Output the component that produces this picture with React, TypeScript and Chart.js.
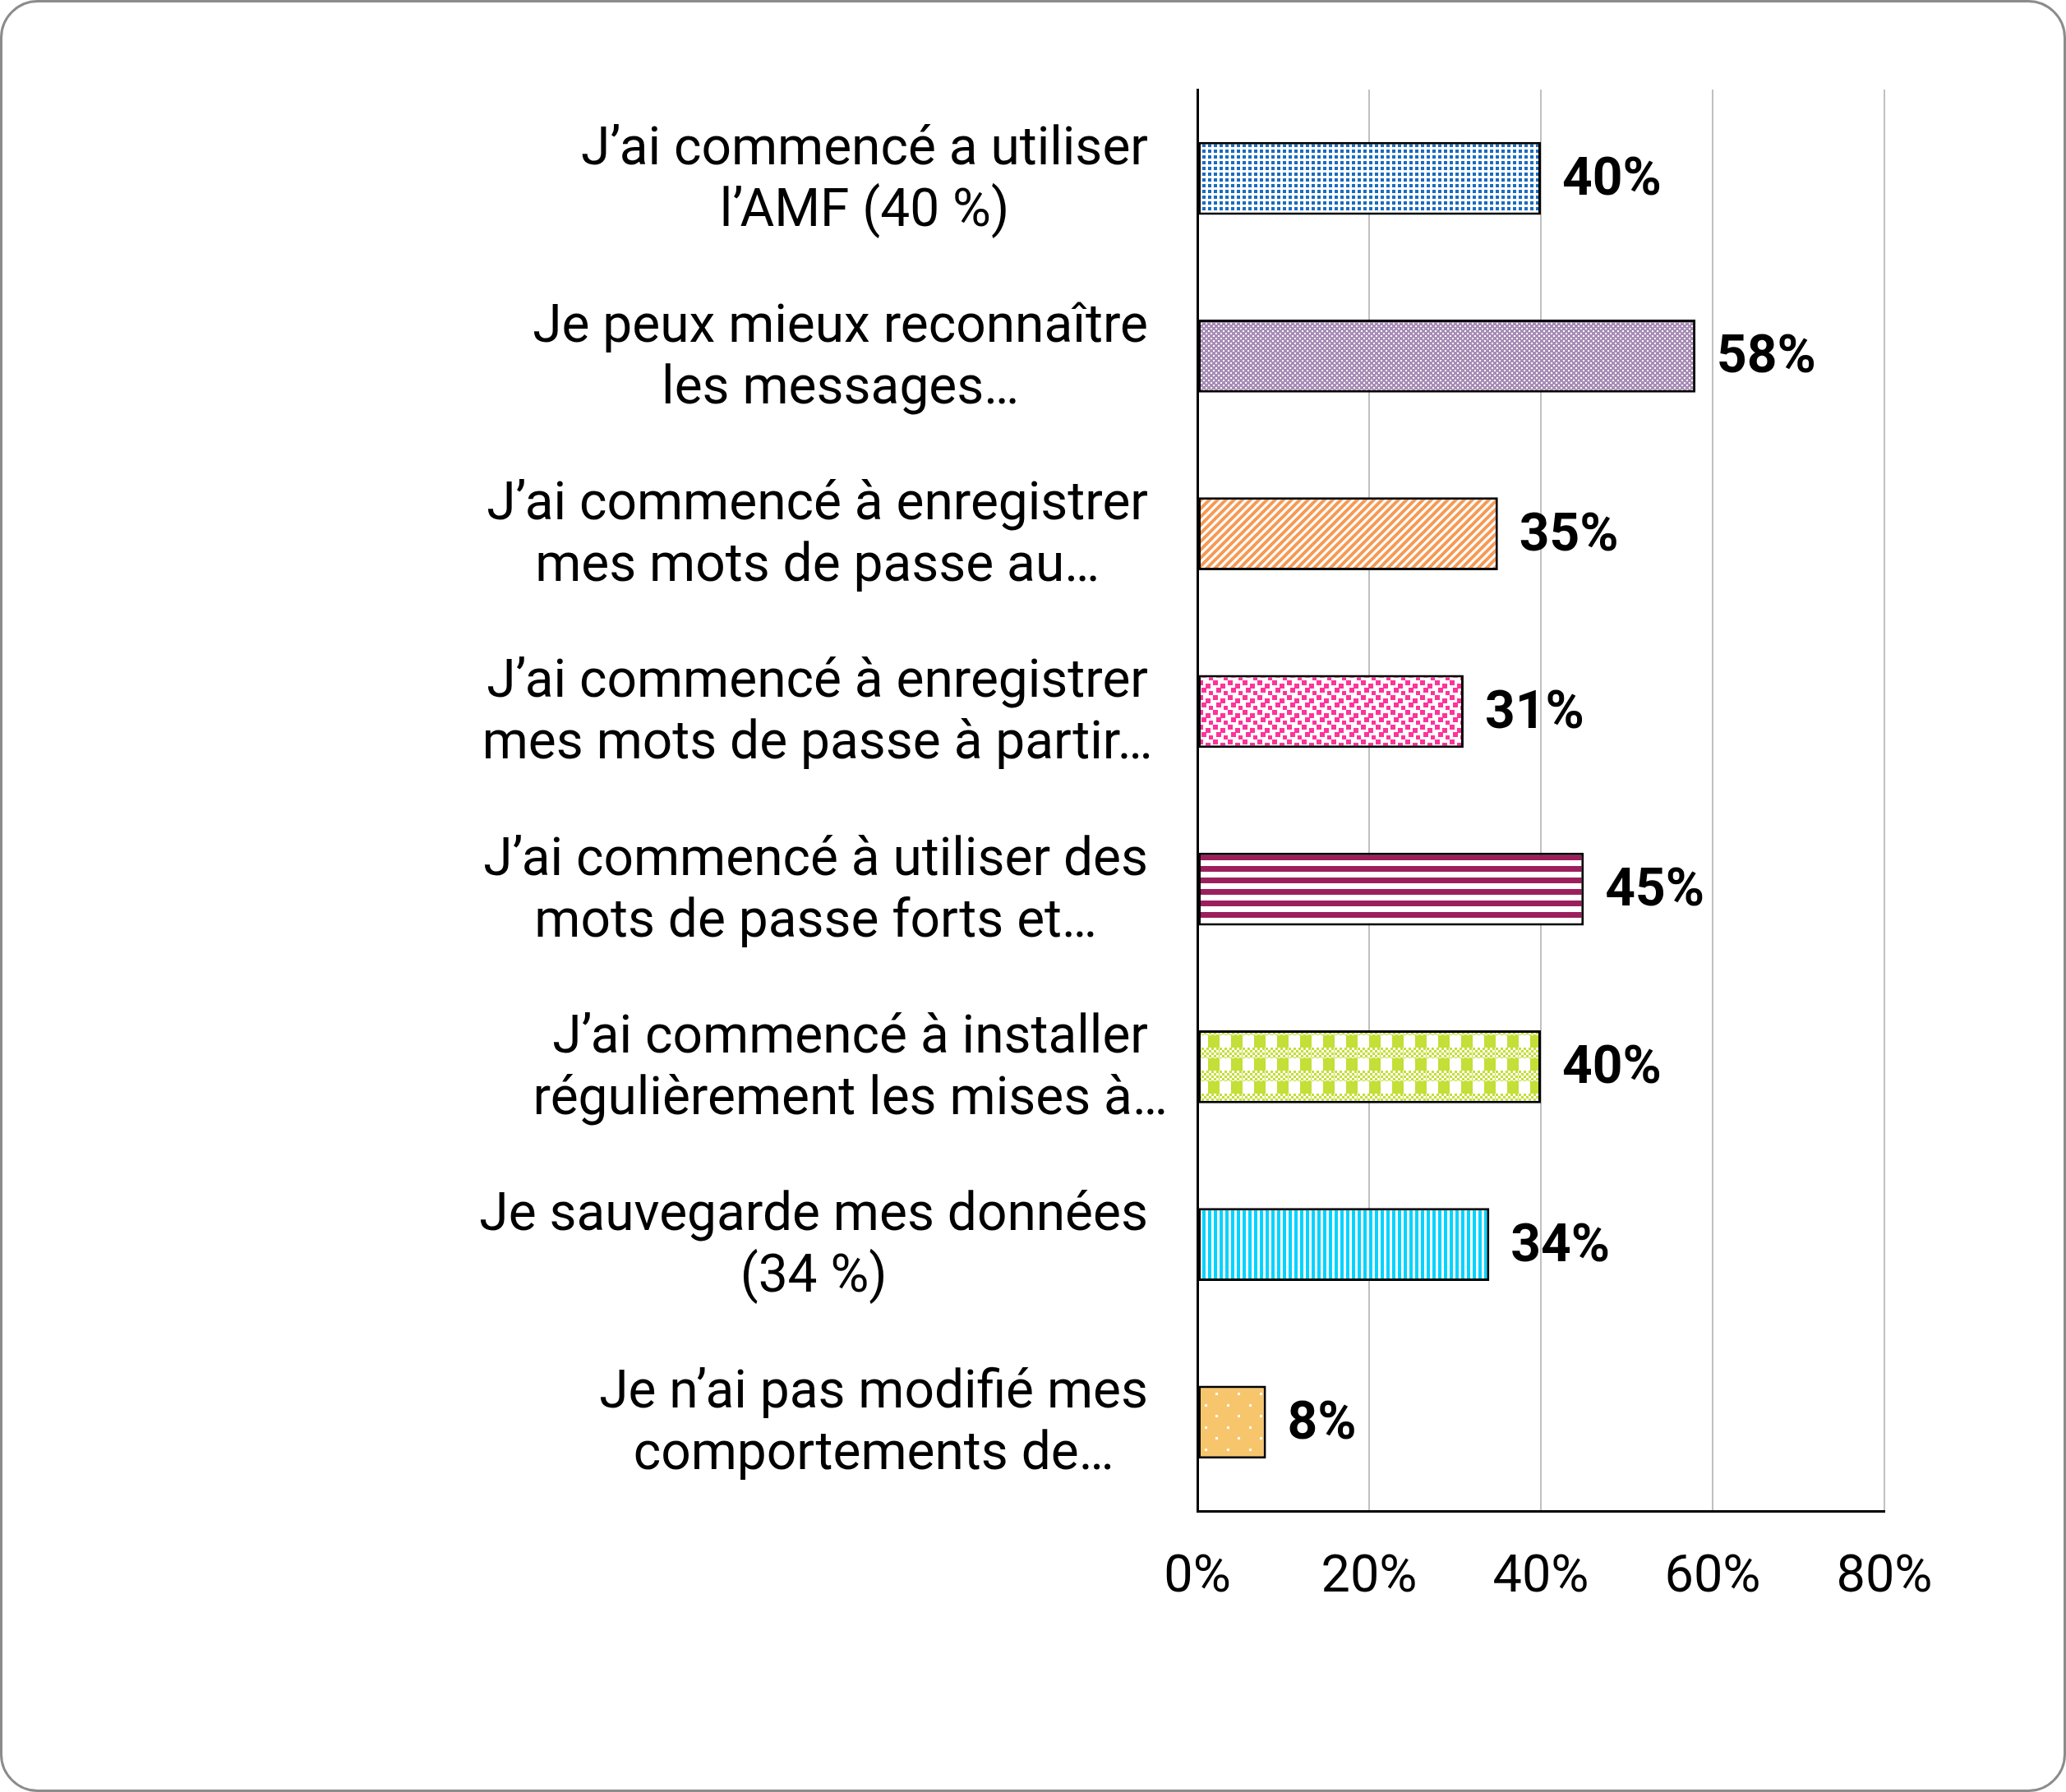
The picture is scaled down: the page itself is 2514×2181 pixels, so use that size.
import React, { useEffect, useRef } from "react";
import { Chart, registerables } from "chart.js";

Chart.register(...registerables);

const categories: string[][] = [
  ["J’ai commencé a utiliser", "l’AMF (40 %)"],
  ["Je peux mieux reconnaître", "les messages…"],
  ["J’ai commencé à enregistrer", "mes mots de passe au…"],
  ["J’ai commencé à enregistrer", "mes mots de passe à partir…"],
  ["J’ai commencé à utiliser des", "mots de passe forts et…"],
  ["J’ai commencé à installer", "régulièrement les mises à…"],
  ["Je sauvegarde mes données", "(34 %)"],
  ["Je n’ai pas modifié mes", "comportements de…"],
];
const values: number[] = [40, 58, 35, 31, 45, 40, 34, 8];
const xTicks: number[] = [0, 20, 40, 60, 80];

const W = 2514;
const H = 2181;
const FONT = "Roboto";

function tile(w: number, h: number, draw: (g: CanvasRenderingContext2D) => void, ctx: CanvasRenderingContext2D) {
  const c = document.createElement("canvas");
  c.width = w;
  c.height = h;
  const g = c.getContext("2d")!;
  draw(g);
  return ctx.createPattern(c, "repeat")!;
}

function makePatterns(ctx: CanvasRenderingContext2D) {
  const p: CanvasPattern[] = [];
  // 1 blue dots
  p.push(tile(7, 7, (g) => {
    g.fillStyle = "#fff"; g.fillRect(0, 0, 7, 7);
    g.fillStyle = "#1a6cc0"; g.fillRect(0, 0, 4, 4);
  }, ctx));
  // 2 purple checker
  p.push(tile(6, 6, (g) => {
    g.fillStyle = "#a88db6"; g.fillRect(0, 0, 6, 6);
    g.fillStyle = "#fff"; g.fillRect(0, 0, 2, 2); g.fillRect(3, 3, 2, 2);
  }, ctx));
  // 3 orange diagonal
  p.push(tile(10, 10, (g) => {
    g.fillStyle = "#fff"; g.fillRect(0, 0, 10, 10);
    g.strokeStyle = "#f59a55"; g.lineWidth = 4;
    for (const o of [-10, 0, 10]) {
      g.beginPath(); g.moveTo(o - 2, 12); g.lineTo(o + 12, -2); g.stroke();
    }
  }, ctx));
  // 4 pink squares
  p.push(tile(18, 18, (g) => {
    g.fillStyle = "#fff"; g.fillRect(0, 0, 18, 18);
    g.fillStyle = "#ff3399";
    g.fillRect(0, 0, 6, 6); g.fillRect(9, 4, 6, 6); g.fillRect(4, 9, 6, 6); g.fillRect(13, 13, 5, 5);
  }, ctx));
  // 5 maroon horizontal stripes
  p.push(tile(4, 14, (g) => {
    g.fillStyle = "#fff"; g.fillRect(0, 0, 4, 14);
    g.fillStyle = "#9c1f5d"; g.fillRect(0, 4, 4, 7);
  }, ctx));
  // 6 lime plaid
  p.push(tile(28, 28, (g) => {
    g.fillStyle = "#fff"; g.fillRect(0, 0, 28, 28);
    g.fillStyle = "#c3df38";
    g.fillRect(14, 0, 14, 15);
    for (let y = 15; y < 28; y += 3) {
      for (let x = 0; x < 28; x += 3) {
        if (((x / 3) + ((y - 15) / 3)) % 2 === 0) g.fillRect(x, y, 3, 3);
      }
    }
  }, ctx));
  // 7 cyan vertical stripes
  p.push(tile(7, 4, (g) => {
    g.fillStyle = "#fff"; g.fillRect(0, 0, 7, 4);
    g.fillStyle = "#00d4ff"; g.fillRect(0, 0, 4, 4);
  }, ctx));
  // 8 gold with white dots
  p.push(tile(27, 27, (g) => {
    g.fillStyle = "#f7c66c"; g.fillRect(0, 0, 27, 27);
    g.fillStyle = "#fff"; g.fillRect(8, 8, 3, 3); g.fillRect(21, 21, 3, 3);
  }, ctx));
  return p;
}

const labelPlugin = {
  id: "customLabels",
  afterDraw(chart: any) {
    const ctx = chart.ctx as CanvasRenderingContext2D;
    const y = chart.scales.y;
    ctx.save();
    ctx.font = `64px ${FONT}`;
    ctx.fillStyle = "#000";
    ctx.textBaseline = "middle";
    ctx.textAlign = "center";
    const rightEdge = 1397;
    const lh = 75;
    const dy = 4;
    categories.forEach((lines, i) => {
      const cy = y.getPixelForTick(i) + dy;
      const w1 = ctx.measureText(lines[0]).width;
      const cx = rightEdge - w1 / 2;
      const n = lines.length;
      lines.forEach((ln, j) => {
        ctx.fillText(ln, cx, cy + (j - (n - 1) / 2) * lh);
      });
    });
    // data labels
    ctx.font = `bold 64px ${FONT}`;
    ctx.textAlign = "left";
    const meta = chart.getDatasetMeta(0);
    meta.data.forEach((bar: any, i: number) => {
      ctx.fillText(`${values[i]}%`, bar.x + 26, bar.y + dy);
    });
    ctx.restore();
  },
};

export default function App() {
  const ref = useRef<HTMLCanvasElement>(null);
  useEffect(() => {
    const canvas = ref.current!;
    const ctx = canvas.getContext("2d")!;
    const patterns = makePatterns(ctx);
    const chart = new Chart(canvas, {
      type: "bar",
      data: {
        labels: categories.map((c) => c.join(" ")),
        datasets: [
          {
            data: values,
            backgroundColor: patterns as any,
            borderColor: "#000",
            borderWidth: 3,
            borderSkipped: false,
            categoryPercentage: 1,
            barPercentage: 0.41,
          },
        ],
      },
      options: {
        indexAxis: "y",
        responsive: false,
        animation: false,
        devicePixelRatio: 1,
        layout: { padding: { top: 109, right: 221, bottom: 0, left: 0 } },
        plugins: { legend: { display: false }, tooltip: { enabled: false } },
        scales: {
          x: {
            min: 0,
            max: 80,
            afterBuildTicks: (s: any) => {
              s.ticks = xTicks.map((v) => ({ value: v }));
            },
            afterFit: (s: any) => {
              s.height = 342;
            },
            grid: { color: "#c0c0c0", lineWidth: 2, drawTicks: false },
            border: { color: "#000", width: 3 },
            ticks: {
              color: "#000",
              font: { family: FONT, size: 63 },
              padding: 44,
              callback: (v: any) => `${v}%`,
            },
          },
          y: {
            afterFit: (s: any) => {
              s.width = 1457;
            },
            grid: { display: false, drawTicks: false },
            border: { color: "#000", width: 3 },
            ticks: { display: false },
          },
        },
      },
      plugins: [labelPlugin],
    });
    return () => chart.destroy();
  }, []);
  return (
    <div style={{ position: "absolute", left: 0, top: 0, width: W, height: H, background: "#fff" }}>
      <canvas ref={ref} width={W} height={H} style={{ position: "absolute", left: 0, top: 0, width: W, height: H }} />
      <div
        style={{
          position: "absolute",
          left: 0,
          top: 0,
          width: W,
          height: H,
          boxSizing: "border-box",
          border: "3px solid #8c8c8c",
          borderRadius: 46,
          pointerEvents: "none",
        }}
      />
    </div>
  );
}
